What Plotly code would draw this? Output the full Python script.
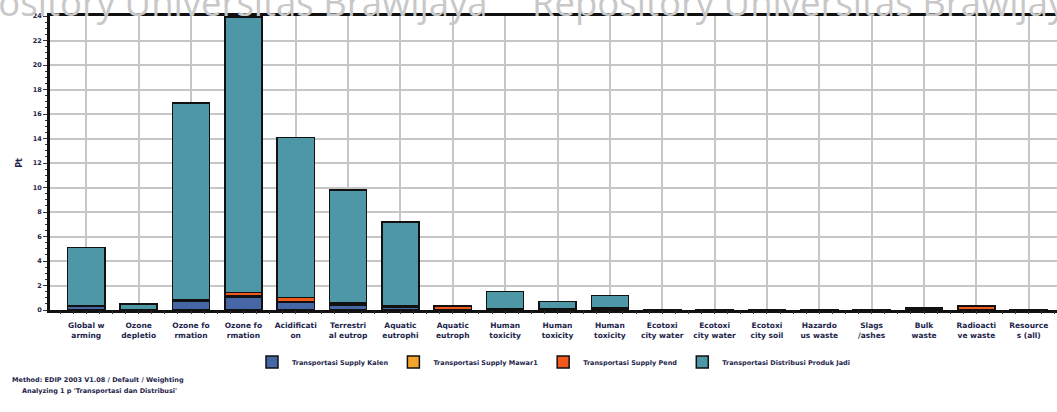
import plotly.graph_objects as go

# Impact categories (EDIP 2003) and their wrapped axis labels
categories = [
    "Global warming 100a", "Ozone depletion", "Ozone formation (Human)",
    "Ozone formation (Vegetation)", "Acidification", "Terrestrial eutrophication",
    "Aquatic eutrophication EP(N)", "Aquatic eutrophication EP(P)",
    "Human toxicity air", "Human toxicity water", "Human toxicity soil",
    "Ecotoxicity water chronic", "Ecotoxicity water acute", "Ecotoxicity soil chronic",
    "Hazardous waste", "Slags/ashes", "Bulk waste", "Radioactive waste", "Resources (all)",
]
tick_labels = [
    "Global w<br>arming", "Ozone<br>depletio", "Ozone fo<br>rmation", "Ozone fo<br>rmation",
    "Acidificati<br>on", "Terrestri<br>al eutrop", "Aquatic<br>eutrophi", "Aquatic<br>eutroph",
    "Human<br>toxicity", "Human<br>toxicity", "Human<br>toxicity",
    "Ecotoxi<br>city water", "Ecotoxi<br>city water", "Ecotoxi<br>city soil",
    "Hazardo<br>us waste", "Slags<br>/ashes", "Bulk<br>waste", "Radioacti<br>ve waste",
    "Resource<br>s (all)",
]

# Weighted scores (Pt) per process
supply_kalen = [0.28, 0.04, 0.72, 1.08, 0.60, 0.40, 0.25, 0.02, 0.04, 0.01, 0.02,
                0.003, 0.003, 0.002, 0.001, 0.001, 0.10, 0.01, 0.001]
supply_mawar = [0.02, 0.005, 0.05, 0.06, 0.06, 0.05, 0.03, 0.02, 0.02, 0.02, 0.02,
                0.001, 0.001, 0.001, 0.0, 0.0, 0.02, 0.03, 0.0]
supply_pend = [0.04, 0.005, 0.08, 0.28, 0.38, 0.12, 0.08, 0.24, 0.03, 0.07, 0.14,
               0.002, 0.002, 0.001, 0.0, 0.0, 0.03, 0.28, 0.0]
distribusi = [4.78, 0.42, 16.05, 22.48, 13.06, 9.23, 6.84, 0.05, 1.41, 0.58, 0.99,
              0.004, 0.004, 0.003, 0.01, 0.01, 0.04, 0.03, 0.002]

series = [
    ("Transportasi Supply Kalen", supply_kalen, "#4766a6"),
    ("Transportasi Supply Mawar1", supply_mawar, "#f2a42c"),
    ("Transportasi Supply Pend", supply_pend, "#f25a1d"),
    ("Transportasi Distribusi Produk Jadi", distribusi, "#4d97a7"),
]

TXT = "#22244a"
FONT = "DejaVu Sans"

fig = go.Figure()
for name, vals, col in series:
    fig.add_trace(go.Bar(
        x=categories, y=vals, name=name,
        marker=dict(color=col, line=dict(color="#111111", width=1.5)),
    ))

# helper trace so the quarter-category tick axis is drawn
fig.add_trace(go.Scatter(x=[], y=[], xaxis="x2", showlegend=False, hoverinfo="skip"))

x_range = [-0.693, 18.54]

fig.update_layout(
    width=1057, height=412,
    margin=dict(l=50, r=0, t=16, b=102),
    paper_bgcolor="white", plot_bgcolor="white",
    barmode="stack", bargap=0.29,
    font=dict(family=FONT, size=7, color=TXT),
    xaxis=dict(
        type="category", range=x_range,
        tickmode="array", tickvals=categories, ticktext=tick_labels,
        tickfont=dict(family=FONT, size=7.5, color=TXT, weight="bold"),
        showgrid=True, gridcolor="#c6c6c6", gridwidth=1.5,
        showline=True, linecolor="#111111", linewidth=2.5, mirror=True,
        ticks="", ticklabelstandoff=6,
    ),
    xaxis2=dict(
        overlaying="x", anchor="y", side="bottom", range=x_range,
        tickmode="linear", tick0=0, dtick=0.25,
        ticks="outside", ticklen=3, tickwidth=1, tickcolor="#333333",
        showticklabels=False, showgrid=False, showline=False, zeroline=False,
    ),
    yaxis=dict(
        range=[0, 24], tickmode="linear", tick0=0, dtick=2,
        tickfont=dict(family=FONT, size=6.5, color=TXT, weight="bold"),
        ticks="outside", ticklen=4, tickwidth=1, tickcolor="#333333",
        minor=dict(ticks="outside", ticklen=2, dtick=0.5, tickcolor="#333333"),
        showgrid=True, gridcolor="#c6c6c6", gridwidth=1.5,
        showline=True, linecolor="#111111", linewidth=3,
        zeroline=False,
        title=dict(text="Pt", font=dict(family=FONT, size=8, color=TXT, weight="bold"), standoff=9),
    ),
    legend=dict(
        orientation="h", x=0.5, xanchor="center", y=-0.177, yanchor="middle",
        font=dict(family=FONT, size=6.5, color=TXT, weight="bold"),
        itemwidth=30, traceorder="normal",
    ),
)

# method note under the chart
fig.add_annotation(
    text="Method: EDIP 2003 V1.08 / Default / Weighting", xref="paper", yref="paper",
    x=-40 / 1007, y=(310 - 380) / 294, xanchor="left", yanchor="middle", showarrow=False,
    font=dict(family=FONT, size=6.5, color=TXT, weight="bold"),
)
fig.add_annotation(
    text="Analyzing 1 p 'Transportasi dan Distribusi'", xref="paper", yref="paper",
    x=-30 / 1007, y=(310 - 391) / 294, xanchor="left", yanchor="middle", showarrow=False,
    font=dict(family=FONT, size=6.5, color=TXT, weight="bold"),
)

# repository watermark across the top edge
for text, xpx, anchor in [("Repository Universitas Brawijaya", 490, "right"),
                          ("Repository Universitas Brawijaya", 530, "left")]:
    fig.add_annotation(
        text=text, xref="paper", yref="paper",
        x=(xpx - 50) / 1007, y=1 + (16 - 29) / 294, xanchor=anchor, yanchor="bottom",
        showarrow=False, font=dict(family="Open Sans", size=36.5, color="#c8c8c8"),
    )

fig.write_html("out.html")
